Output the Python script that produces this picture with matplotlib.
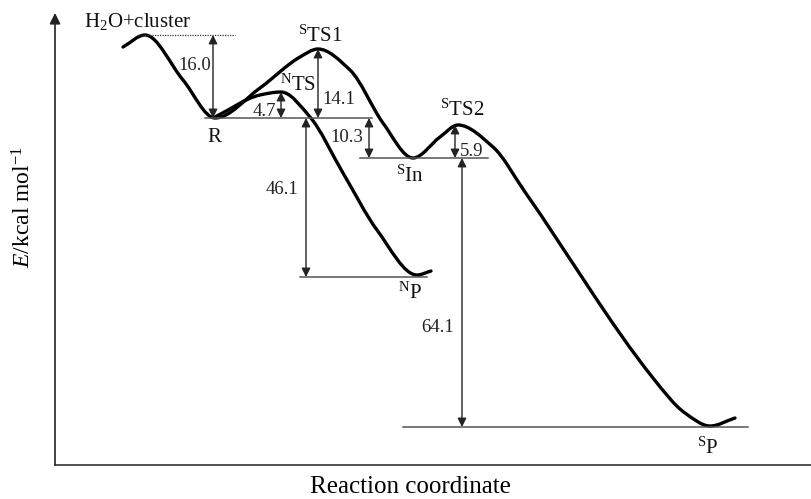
import numpy as np
import matplotlib
matplotlib.use("Agg")
import matplotlib.pyplot as plt
from matplotlib.path import Path
from matplotlib.patches import PathPatch

plt.rcParams["font.family"] = ["Liberation Serif", "DejaVu Serif"]
plt.rcParams["mathtext.fontset"] = "custom"
plt.rcParams["mathtext.rm"] = "Liberation Serif"
plt.rcParams["mathtext.it"] = "Liberation Serif:italic"

# singlet surface: H2O+cluster -> R -> sTS1 -> sIn -> sTS2 -> sP  (drawing units)
singlet_x = [68, 90, 128, 160, 205, 245, 263, 295, 328, 358, 385, 403, 438, 470, 598, 630, 655, 680]
singlet_y = [418, 430, 385, 347, 377, 408, 416, 395, 342, 307, 328, 340, 318, 273, 87, 52, 39, 47]

# other surface: R -> nTS -> nP
n_x = [160, 205, 226, 255, 288, 322, 362, 376]
n_y = [348, 370, 373, 348, 292, 235, 190, 194]

# reference levels: (y, x start, x end)
level_y = [347, 307, 188, 38]
level_x0 = [150, 305, 245, 348]
level_x1 = [317, 433, 372, 693]
cluster_level = (430, 82, 180)

# energy gaps: x position, lower y, upper y, label, label position
gap_x = [158, 226, 263, 314, 400, 251, 407]
gap_lo = [347, 347, 347, 307, 307, 188, 38]
gap_hi = [430, 373, 416, 347, 340, 347, 307]
gap_text = ["16.0", "4.7", "14.1", "10.3", "5.9", "46.1", "64.1"]
gap_tx = [140, 209, 284, 292, 417, 227, 383]
gap_ty = [399, 354, 366, 327, 314, 275, 138]

# state labels
state_text = [r"H$_2$O+cluster", r"$^{\mathrm{S}}$TS1", r"$^{\mathrm{N}}$TS", "R",
              r"$^{\mathrm{S}}$In", r"$^{\mathrm{S}}$TS2", r"$^{\mathrm{N}}$P", r"$^{\mathrm{S}}$P"]
state_x = [83, 265, 243, 159, 355, 407, 355, 653]
state_y = [443, 429, 380, 327, 289, 355, 172, 17]


def smooth_path(xs, ys):
    # monotone cubic (Hermite in x) through the stationary/shape points
    x = np.asarray(xs, float)
    y = np.asarray(ys, float)
    dx = np.diff(x)
    sec = np.diff(y) / dx
    m = np.zeros(len(x))
    m[0], m[-1] = sec[0], sec[-1]
    for i in range(1, len(x) - 1):
        a, b = sec[i - 1], sec[i]
        if a * b > 0:
            m[i] = 2 * a * b / (a + b)
    verts = [(x[0], y[0])]
    codes = [Path.MOVETO]
    for i in range(len(x) - 1):
        h = dx[i] / 3
        verts += [(x[i] + h, y[i] + m[i] * h),
                  (x[i + 1] - h, y[i + 1] - m[i + 1] * h),
                  (x[i + 1], y[i + 1])]
        codes += [Path.CURVE4] * 3
    return Path(verts, codes)


fig = plt.figure(figsize=(8.11, 4.99), dpi=100)
ax = fig.add_axes([55 / 811, 34 / 499, 756 / 811, 452 / 499])
ax.set_xlim(0, 756)
ax.set_ylim(0, 452)
ax.set_xticks([])
ax.set_yticks([])
for side in ["top", "right", "left"]:
    ax.spines[side].set_visible(False)
ax.spines["bottom"].set_color("#333333")
ax.spines["bottom"].set_linewidth(1.2)
ax.annotate("", xy=(0, 1), xytext=(0, 0), xycoords="axes fraction",
            arrowprops=dict(arrowstyle="-|>", color="#222222", lw=1.2,
                            mutation_scale=16, shrinkA=0, shrinkB=0),
            annotation_clip=False)

# levels
for y, x0, x1 in zip(level_y, level_x0, level_x1):
    ax.plot([x0, x1], [y, y], color="#555555", lw=1.1)
ax.plot([cluster_level[1], cluster_level[2]], [cluster_level[0]] * 2,
        color="#333333", lw=0.9, linestyle=(0, (1, 1)))

# energy curves
for xs, ys in [(singlet_x, singlet_y), (n_x, n_y)]:
    ax.add_patch(PathPatch(smooth_path(xs, ys), facecolor="none",
                           edgecolor="black", lw=2.4, capstyle="round",
                           joinstyle="round"))

# gap arrows
for x, lo, hi, t, tx, ty in zip(gap_x, gap_lo, gap_hi, gap_text, gap_tx, gap_ty):
    ax.annotate("", xy=(x, hi), xytext=(x, lo),
                arrowprops=dict(arrowstyle="<|-|>", color="#222222", lw=1.0,
                                mutation_scale=13, shrinkA=0, shrinkB=0))
    ax.text(tx, ty, t, fontsize=13.5, ha="center", va="center", color="#222222")

for t, x, y in zip(state_text, state_x, state_y):
    ax.text(x, y, t, fontsize=15, ha="center", va="center", color="#111111")

fig.text(24 / 811, 1 - 207 / 499, r"$E$/kcal mol$^{-1}$", rotation=90,
         fontsize=17, ha="center", va="center")
fig.text(410 / 811, 1 - 487 / 499, "Reaction coordinate", fontsize=18,
         ha="center", va="center")

fig.savefig("out.png", dpi=100)
